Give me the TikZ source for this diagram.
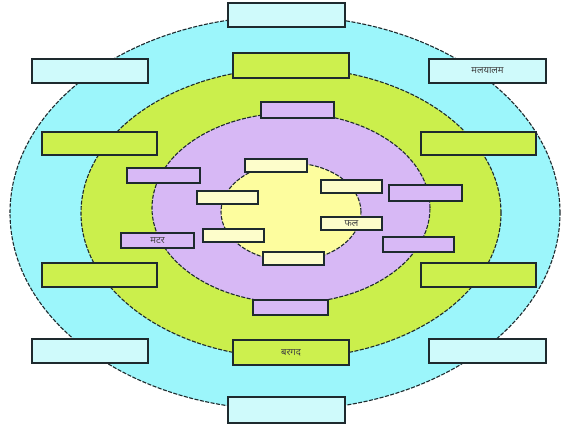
\documentclass[tikz,border=0pt]{standalone}
\usepackage{fontspec}
\newfontfamily\deva[Script=Devanagari]{Noto Sans}
\usetikzlibrary{shapes.geometric}
\definecolor{cyanring}{HTML}{9CF6FB}
\definecolor{greenring}{HTML}{CBEF4C}
\definecolor{purplering}{HTML}{D7B8F5}
\definecolor{yellowring}{HTML}{FDFD9E}
\definecolor{cyanbox}{HTML}{CFFAFB}
\definecolor{greenbox}{HTML}{CDF04E}
\definecolor{purplebox}{HTML}{D8B9F6}
\definecolor{yellowbox}{HTML}{FDFDCB}
\definecolor{edge}{HTML}{1E2A2E}
\begin{document}
\begin{tikzpicture}[x=1pt,y=-1pt,
  ring/.style={ellipse,draw=edge,line width=1.1pt,dash pattern=on 4pt off 1.5pt,inner sep=0pt,outer sep=0pt},
  lbl/.style={draw=edge,line width=1.2pt,inner sep=0pt,outer sep=0pt,font=\deva\fontsize{9.5}{10}\selectfont,text=black!75},
  cbox/.style={lbl,fill=cyanbox},
  gbox/.style={lbl,fill=greenbox},
  pbox/.style={lbl,fill=purplebox},
  ybox/.style={lbl,fill=yellowbox}]
\useasboundingbox (0,0) rectangle (566,430);
\fill[white] (0,0) rectangle (566,430);
% rings
\node[ring,fill=cyanring,minimum width=550pt,minimum height=394pt] (outer) at (285,213) {};
\node[ring,fill=greenring,minimum width=420pt,minimum height=290pt] (green) at (291,213) {};
\node[ring,fill=purplering,minimum width=278pt,minimum height=190pt] (purple) at (291,208) {};
\node[ring,fill=yellowring,minimum width=140pt,minimum height=98pt] (yellow) at (291,212) {};
% cyan boxes
\node[cbox,minimum width=117pt,minimum height=24pt] (c1) at (286.5,15) {};
\node[cbox,minimum width=116pt,minimum height=24pt] (c2) at (90,71) {};
\node[cbox,minimum width=117pt,minimum height=24pt] (c3) at (487.5,71) {मलयालम};
\node[cbox,minimum width=116pt,minimum height=24pt] (c4) at (90,351) {};
\node[cbox,minimum width=117pt,minimum height=24pt] (c5) at (487.5,351) {};
\node[cbox,minimum width=117pt,minimum height=26pt] (c6) at (286.5,410) {};
% green boxes
\node[gbox,minimum width=116pt,minimum height=25pt] (g1) at (291,65.5) {};
\node[gbox,minimum width=115pt,minimum height=23pt] (g2) at (99.5,143.5) {};
\node[gbox,minimum width=115pt,minimum height=23pt] (g3) at (478.5,143.5) {};
\node[gbox,minimum width=115pt,minimum height=24pt] (g4) at (99.5,275) {};
\node[gbox,minimum width=115pt,minimum height=24pt] (g5) at (478.5,275) {};
\node[gbox,minimum width=116pt,minimum height=25pt] (g6) at (291,352.5) {बरगद};
% purple boxes
\node[pbox,minimum width=73pt,minimum height=16pt] (p1) at (297.5,110) {};
\node[pbox,minimum width=73pt,minimum height=15pt] (p2) at (163.5,175.5) {};
\node[pbox,minimum width=73pt,minimum height=16pt] (p3) at (425.5,193) {};
\node[pbox,minimum width=73pt,minimum height=15pt] (p4) at (157.5,240.5) {मटर};
\node[pbox,minimum width=71pt,minimum height=15pt] (p5) at (418.5,244.5) {};
\node[pbox,minimum width=75pt,minimum height=15pt] (p6) at (290.5,307.5) {};
% yellow boxes
\node[ybox,minimum width=62pt,minimum height=13pt] (y1) at (276,165.5) {};
\node[ybox,minimum width=61pt,minimum height=13pt] (y2) at (227.5,197.5) {};
\node[ybox,minimum width=61pt,minimum height=13pt] (y3) at (351.5,186.5) {};
\node[ybox,minimum width=61pt,minimum height=13pt] (y4) at (233.5,235.5) {};
\node[ybox,minimum width=61pt,minimum height=13pt] (y5) at (351.5,223.5) {फल};
\node[ybox,minimum width=61pt,minimum height=13pt] (y6) at (293.5,258.5) {};
\end{tikzpicture}
\end{document}
